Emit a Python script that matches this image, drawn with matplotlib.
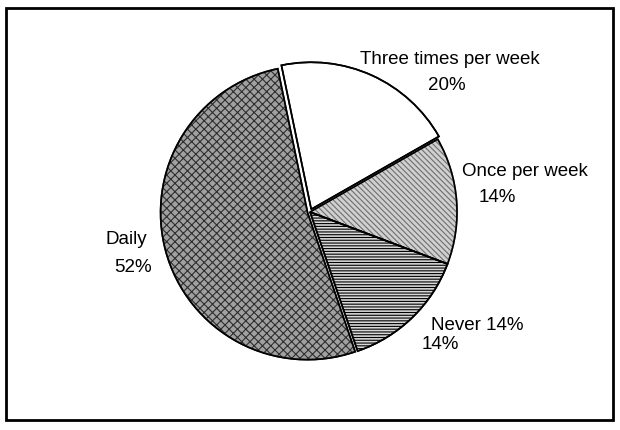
import matplotlib.pyplot as plt
from matplotlib.patches import Rectangle, Wedge

plt.rcParams['font.family'] = ['Liberation Sans', 'DejaVu Sans']
plt.rcParams['hatch.linewidth'] = 0.8

# data
labels = ["Three times per week", "Once per week", "Never", "Daily"]
values = [20, 14, 14, 52]
face_colors = ["white", "#d0d0d0", "#d8d8d8", "#a0a0a0"]
hatches = ["", "\\\\\\\\\\\\", "------", "xxxx"]
hatch_colors = ["black", "#6e6e6e", "black", "#2e2e2e"]
explode = [3.0, 0, 0, 2.5]   # in pixels (data units)

fig = plt.figure(figsize=(6.2, 4.31), dpi=100)
fig.patches.append(Rectangle((0.009, 0.024), 0.98, 0.955, transform=fig.transFigure,
                             fill=False, edgecolor="black", linewidth=2))

ax = fig.add_axes([0.0, 0.0, 1.0, 1.0])
wedges, _ = ax.pie(values, startangle=101.7, counterclock=False, explode=explode,
                   colors=face_colors, radius=147, center=(310, 218),
                   wedgeprops=dict(edgecolor="black", linewidth=1.2), frame=True)
for w, h, hc in zip(wedges, hatches, hatch_colors):
    w.set_hatch(h)
    w.set_edgecolor(hc)
# black outlines over the hatch colour
for w in wedges:
    ax.add_patch(Wedge(w.center, w.r, w.theta1, w.theta2,
                       fill=False, edgecolor="black", linewidth=1.2))

ax.set_xlim(0, 620)
ax.set_ylim(0, 431)
ax.set_aspect("equal")
ax.axis("off")

fs = 13.5
ax.text(450, 371, "Three times per week", ha="center", va="center", fontsize=fs)
ax.text(447, 346, "20%", ha="center", va="center", fontsize=fs)
ax.text(525, 259, "Once per week", ha="center", va="center", fontsize=fs)
ax.text(497, 234, "14%", ha="center", va="center", fontsize=fs)
ax.text(126, 191, "Daily", ha="center", va="center", fontsize=fs)
ax.text(133, 163, "52%", ha="center", va="center", fontsize=fs)
ax.text(477, 106, "Never 14%", ha="center", va="center", fontsize=fs)
ax.text(440, 86, "14%", ha="center", va="center", fontsize=fs)

fig.savefig("out.png", dpi=100)
